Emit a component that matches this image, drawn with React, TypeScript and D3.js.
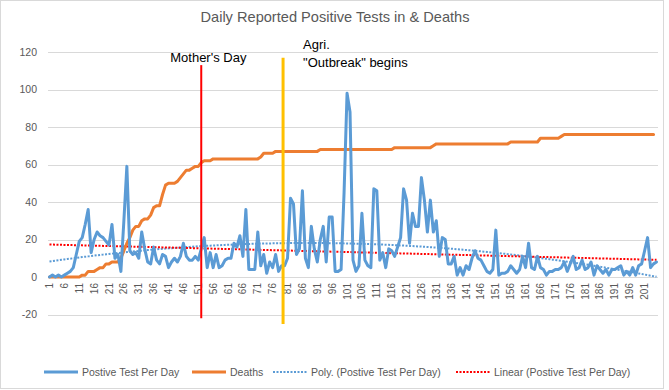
import React from 'react';
import * as d3 from 'd3';

// daily positive tests (day 1..205)
const positiveTests = [
  0, 1, 0, 1, 0, 1, 2, 3, 5, 12,
  19, 21, 28, 36, 13, 20, 24, 22, 21, 19,
  17, 28, 10, 12, 3, 30, 59, 14, 12, 13,
  10, 24, 15, 8, 7, 16, 9, 7, 12, 11,
  5, 8, 10, 8, 11, 18, 11, 9, 9, 11,
  9, 15, 21, 5, 13, 5, 12, 5, 6, 9,
  10, 10, 18, 16, 22, 11, 36, 4, 4, 4,
  24, 6, 12, 2, 8, 5, 12, 3, 6, 6,
  10, 42, 39, 12, 15, 46, 10, 5, 27, 15,
  8, 20, 27, 8, 32, 32, 3, 3, 4, 45,
  98, 88, 9, 3, 6, 34, 9, 6, 5, 47,
  46, 9, 13, 5, 15, 14, 11, 16, 21, 47,
  41, 18, 34, 27, 27, 53, 41, 24, 41, 24,
  30, 11, 21, 20, 7, 7, 11, 1, 5, 1,
  6, 4, 10, 14, 10, 9, 6, 3, 2, 4,
  25, 1, 2, 2, 3, 6, 4, 2, 4, 11,
  5, 18, 5, 4, 11, 5, 4, 1, 3, 3,
  4, 4, 5, 8, 3, 7, 11, 4, 5, 9,
  4, 5, 8, 1, 6, 4, 2, 4, 1, 4,
  4, 5, 6, 1, 3, 1, 5, 1, 6, 7,
  14, 21, 5, 7, 8,
];

// cumulative deaths (day 1..204)
const deaths = [
  0, 0, 0, 0, 0, 0, 0, 0, 0, 0,
  0, 1, 1, 3, 3, 3, 4, 5, 5, 7,
  7, 8, 8, 8, 10, 14, 18, 21, 25, 27,
  27, 30, 31, 31, 33, 37, 38, 38, 44, 49,
  50, 50, 50, 51, 53, 55, 57, 57, 58, 59,
  59, 61, 62, 62, 62, 63, 63, 63, 63, 63,
  63, 63, 63, 63, 63, 63, 63, 63, 63, 63,
  63, 64, 66, 66, 66, 66, 67, 67, 67, 67,
  67, 67, 67, 67, 67, 67, 67, 67, 67, 67,
  67, 68, 68, 68, 68, 68, 68, 68, 68, 68,
  68, 68, 68, 68, 68, 68, 68, 68, 68, 68,
  68, 68, 68, 68, 68, 68, 69, 69, 69, 69,
  69, 69, 69, 69, 69, 69, 69, 69, 69, 70,
  71, 71, 71, 71, 71, 71, 71, 71, 71, 71,
  71, 71, 71, 71, 71, 71, 71, 71, 71, 71,
  71, 71, 71, 71, 71, 72, 72, 72, 72, 72,
  72, 72, 72, 72, 72, 74, 74, 74, 74, 74,
  74, 74, 75, 76, 76, 76, 76, 76, 76, 76,
  76, 76, 76, 76, 76, 76, 76, 76, 76, 76,
  76, 76, 76, 76, 76, 76, 76, 76, 76, 76,
  76, 76, 76, 76,
];

const yTicks = [-20, 0, 20, 40, 60, 80, 100, 120];
const labelEvery = 5;

// annotations drawn on the chart
const eventDays = [52, 79.5];
const eventLabels = [["Mother's Day"], ['Agri.', '"Outbreak" begins']];
const eventSpan = [[113, -22], [117, -25]];

const legendNames = [
  'Postive Test Per Day',
  'Deaths',
  'Poly. (Postive Test Per Day)',
  'Linear (Postive Test Per Day)',
];

const title = 'Daily Reported Positive Tests in & Deaths';

// least squares polynomial fit, x = 1..n like Excel does for category axes
const polyFit = (ys: number[], order: number) => {
  const n = order + 1;
  const A: number[][] = Array.from({ length: n }, () => Array(n + 1).fill(0));
  ys.forEach((v, i) => {
    const xv = i + 1;
    for (let r = 0; r < n; r++) {
      for (let c = 0; c < n; c++) A[r][c] += Math.pow(xv, r + c);
      A[r][n] += v * Math.pow(xv, r);
    }
  });
  for (let i = 0; i < n; i++) {
    let p = i;
    for (let k = i + 1; k < n; k++) if (Math.abs(A[k][i]) > Math.abs(A[p][i])) p = k;
    [A[i], A[p]] = [A[p], A[i]];
    for (let k = i + 1; k < n; k++) {
      const f = A[k][i] / A[i][i];
      for (let c = i; c <= n; c++) A[k][c] -= f * A[i][c];
    }
  }
  const coef = Array(n).fill(0);
  for (let i = n - 1; i >= 0; i--) {
    let s = A[i][n];
    for (let c = i + 1; c < n; c++) s -= A[i][c] * coef[c];
    coef[i] = s / A[i][i];
  }
  return (xv: number) => coef.reduce((acc, c, i) => acc + c * Math.pow(xv, i), 0);
};

const BLUE = '#5B9BD5';
const ORANGE = '#ED7D31';
const GRID = '#D9D9D9';
const TEXT = '#595959';
const eventColors = ['#FF0000', '#FFC000'];
const eventWidths = [2, 3];

const App = () => {
  const width = 669;
  const height = 390;
  const n = positiveTests.length;

  const x = d3.scaleLinear().domain([0.5, n + 0.5]).range([48, 658]);
  const y = d3.scaleLinear().domain([-20, 120]).range([314.5, 52]);

  const line = d3.line<number>()
    .x((_, i) => x(i + 1))
    .y(d => y(d));

  const poly = polyFit(positiveTests, 2);
  const linear = polyFit(positiveTests, 1);
  const polyVals = positiveTests.map((_, i) => poly(i + 1));
  const linVals = positiveTests.map((_, i) => linear(i + 1));

  const tickDays = d3.range(1, n + 1).filter(d => (d - 1) % labelEvery === 0);

  // legend layout: swatch start x for each entry
  const legendX = [44, 192, 273, 456];
  const legendY = 372;
  const legendStyles = [
    { stroke: BLUE, w: 3, dash: undefined },
    { stroke: ORANGE, w: 3, dash: undefined },
    { stroke: BLUE, w: 2, dash: '2 1.5' },
    { stroke: '#FF0000', w: 2, dash: '2 1.5' },
  ];

  return (
    <svg width={width} height={height} style={{ position: 'absolute', left: 0, top: 0, background: '#fff' }}
      fontFamily="'Liberation Sans', Arial, sans-serif">
      <rect x={0.5} y={0.5} width={663} height={388} fill="#fff" stroke={GRID} />

      <text x={335} y={22} textAnchor="middle" fontSize={14.6} fill={TEXT}>{title}</text>

      {/* gridlines + y labels */}
      {yTicks.map(t => (
        <g key={t}>
          <line x1={48} x2={658} y1={Math.round(y(t)) + 0.5} y2={Math.round(y(t)) + 0.5} stroke={GRID} strokeWidth={1} />
          <text x={37} y={y(t)} dy="0.35em" textAnchor="end" fontSize={10.5} fill={TEXT}>{t}</text>
        </g>
      ))}

      {/* x labels, rotated */}
      {tickDays.map(d => (
        <text key={d} transform={`translate(${x(d)},${283}) rotate(-90)`} dy="0.35em" textAnchor="end"
          fontSize={10} fill={TEXT}>{d}</text>
      ))}

      {/* trendlines */}
      <path d={line(polyVals) || ''} fill="none" stroke={BLUE} strokeWidth={2} strokeDasharray="2 1.5" />
      <path d={line(linVals) || ''} fill="none" stroke="#FF0000" strokeWidth={2} strokeDasharray="2 1.5" />

      {/* series */}
      <path d={line(deaths) || ''} fill="none" stroke={ORANGE} strokeWidth={3} strokeLinejoin="round" strokeLinecap="round" />
      <path d={line(positiveTests) || ''} fill="none" stroke={BLUE} strokeWidth={3} strokeLinejoin="round" strokeLinecap="round" />

      {/* event markers */}
      {eventDays.map((d, i) => (
        <line key={i} x1={x(d)} x2={x(d)} y1={y(eventSpan[i][0])} y2={y(eventSpan[i][1])}
          stroke={eventColors[i]} strokeWidth={eventWidths[i]} />
      ))}
      <text x={x(eventDays[0]) - 31} y={61.5} fontSize={13} fill="#000">{eventLabels[0][0]}</text>
      {eventLabels[1].map((s, j) => (
        <text key={j} x={x(eventDays[1]) + 20} y={49 + j * 17.5} fontSize={13} fill="#000">{s}</text>
      ))}

      {/* legend */}
      {legendNames.map((name, i) => (
        <g key={name}>
          <line x1={legendX[i]} x2={legendX[i] + 34} y1={legendY} y2={legendY}
            stroke={legendStyles[i].stroke} strokeWidth={legendStyles[i].w}
            strokeDasharray={legendStyles[i].dash} />
          <text x={legendX[i] + 38} y={legendY} dy="0.35em" fontSize={10.5} fill={TEXT}>{name}</text>
        </g>
      ))}
    </svg>
  );
};

export default App;
